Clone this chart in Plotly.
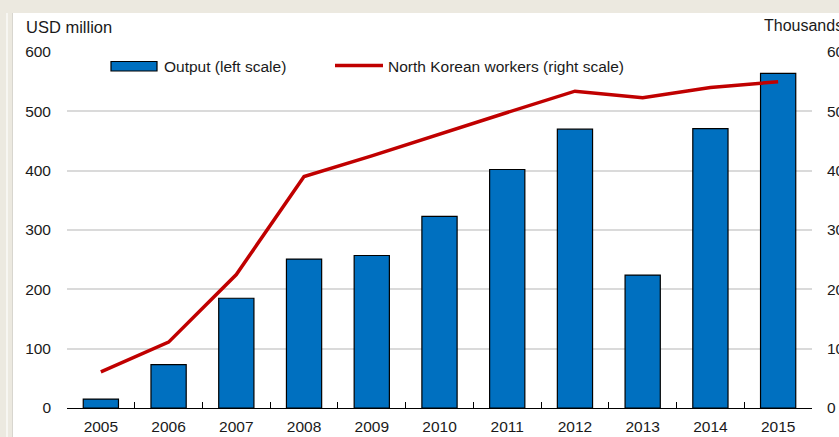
import plotly.graph_objects as go

# --- data ---
years = [2005, 2006, 2007, 2008, 2009, 2010, 2011, 2012, 2013, 2014, 2015]
output_usd_m = [15, 73, 185, 251, 257, 323, 402, 470, 224, 471, 564]
nk_workers_k = [6.1, 11.1, 22.5, 39.0, 42.5, 46.2, 49.8, 53.4, 52.3, 54.0, 55.0]
y_left_ticks = [0, 100, 200, 300, 400, 500, 600]
y_right_ticks = [0, 10, 20, 30, 40, 50, 60]

BLUE = "#0070C0"
RED = "#C00000"
BEIGE = "#ECE9E0"
GRID = "#DADADA"
FONT = "Liberation Sans, Arial, sans-serif"

W, H = 839, 437
L, R, T, B = 67, 27, 52, 29
PW, PH = W - L - R, H - T - B


def px(x):  # page pixel -> paper x
    return (x - L) / PW


def py(y):  # page pixel -> paper y
    return 1 - (y - T) / PH


fig = go.Figure()

fig.add_trace(go.Bar(
    x=[str(y) for y in years],
    y=output_usd_m,
    name="Output (left scale)",
    marker=dict(color=BLUE, line=dict(color="#000000", width=1.2)),
    showlegend=False,
))

fig.add_trace(go.Scatter(
    x=[str(y) for y in years],
    y=nk_workers_k,
    name="North Korean workers (right scale)",
    mode="lines",
    line=dict(color=RED, width=3.5),
    yaxis="y2",
    showlegend=False,
))

shapes = [
    # white panel on beige page
    dict(type="rect", xref="paper", yref="paper", layer="below",
         x0=px(12), x1=px(W + 5), y0=py(H + 5), y1=py(13),
         fillcolor="white", line=dict(width=0)),
    dict(type="line", xref="paper", yref="paper", layer="below",
         x0=px(7), x1=px(7), y0=py(H + 5), y1=py(13),
         line=dict(color="#F7F6F2", width=2)),
    dict(type="line", xref="paper", yref="paper", layer="below",
         x0=px(12.5), x1=px(12.5), y0=py(H + 5), y1=py(13),
         line=dict(color="#D8D6CF", width=1)),
    # manual legend
    dict(type="rect", xref="paper", yref="paper",
         x0=px(111), x1=px(157), y0=py(71), y1=py(61.5),
         fillcolor=BLUE, line=dict(color="#000000", width=1.2)),
    dict(type="line", xref="paper", yref="paper",
         x0=px(335), x1=px(383), y0=py(65.5), y1=py(65.5),
         line=dict(color=RED, width=3.5)),
]

annotations = [
    dict(text="Output (left scale)", x=px(162), y=py(66.5), xref="paper", yref="paper",
         xanchor="left", yanchor="middle", showarrow=False),
    dict(text="North Korean workers (right scale)", x=px(386), y=py(66.5),
         xref="paper", yref="paper", xanchor="left", yanchor="middle", showarrow=False),
    dict(text="USD million", x=px(24), y=py(27), xref="paper", yref="paper",
         xanchor="left", yanchor="middle", showarrow=False, font=dict(size=16.5)),
    dict(text="Thousands", x=px(762), y=py(25), xref="paper", yref="paper",
         xanchor="left", yanchor="middle", showarrow=False, font=dict(size=16)),
]

fig.update_layout(
    width=W, height=H,
    margin=dict(l=L, r=R, t=T, b=B, pad=0, autoexpand=False),
    paper_bgcolor=BEIGE,
    plot_bgcolor="rgba(0,0,0,0)",
    font=dict(family=FONT, size=15.5, color="#1A1A1A"),
    bargap=0.48,
    showlegend=False,
    shapes=shapes,
    annotations=annotations,
    xaxis=dict(
        type="category", automargin=False,
        showgrid=False,
        showline=True, linecolor="#000000", linewidth=1.2,
        ticks="inside", ticklen=6, tickcolor="#000000", tickwidth=1,
        tickson="boundaries",
        ticklabelstandoff=4,
    ),
    yaxis=dict(
        range=[0, 600], tickvals=y_left_ticks, automargin=False,
        showgrid=True, gridcolor=GRID, gridwidth=1.5,
        zeroline=False, showline=False, ticks="",
        ticklabelstandoff=15,
    ),
    yaxis2=dict(
        range=[0, 60], tickvals=y_right_ticks, automargin=False,
        overlaying="y", side="right",
        showgrid=False, zeroline=False, showline=False, ticks="",
        ticklabelstandoff=14,
    ),
)

fig.write_html(
    "out.html",
    config={"displayModeBar": False},
    post_script=(
        "document.body.style.margin='0';"
        "document.body.style.overflow='hidden';"
    ),
)
